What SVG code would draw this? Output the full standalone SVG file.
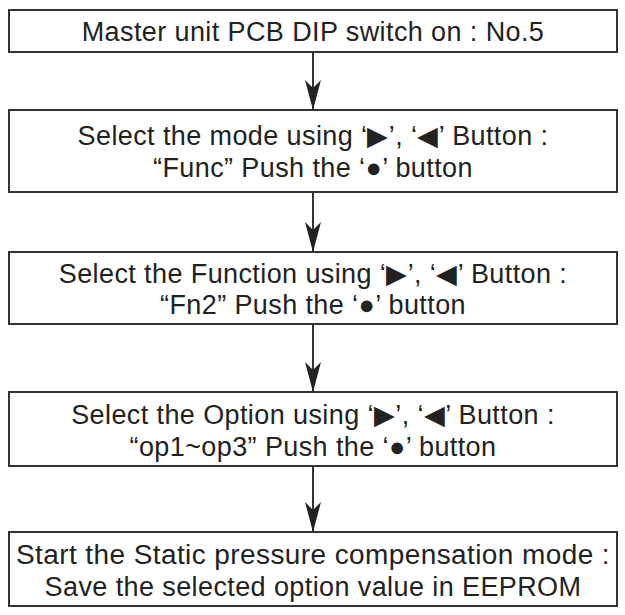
<svg xmlns="http://www.w3.org/2000/svg" width="625" height="615" viewBox="0 0 625 615">
<style>
rect{fill:#fff;stroke:#333;stroke-width:2}
text{font-family:"Liberation Sans",Arial,sans-serif;font-size:27px;letter-spacing:0.4px;fill:#222;text-anchor:middle}
.c line{stroke:#333;stroke-width:2}
</style>
<defs><marker id="a" markerWidth="30" markerHeight="16" refX="30" refY="8" orient="auto" markerUnits="userSpaceOnUse" viewBox="0 0 30 16"><path d="M0,0 L30,8 L0,16 L8,8 Z" fill="#222"/></marker></defs>
<rect x="0" y="0" width="625" height="615" style="stroke:none"/>
<g id="n1"><rect x="9" y="10" width="608" height="42"/><text x="313" y="41">Master unit PCB DIP switch on : No.5</text></g>
<g id="n2"><rect x="9" y="110" width="608" height="82"/><text x="313" y="145">Select the mode using ‘▶’, ‘◀’ Button :</text><text x="313" y="177">“Func” Push the ‘●’ button</text></g>
<g id="n3"><rect x="9" y="252" width="608" height="72"/><text x="313" y="283">Select the Function using ‘▶’, ‘◀’ Button :</text><text x="313" y="314">“Fn2” Push the ‘●’ button</text></g>
<g id="n4"><rect x="9" y="392" width="608" height="74"/><text x="313" y="424">Select the Option using ‘▶’, ‘◀’ Button :</text><text x="313" y="456">“op1~op3” Push the ‘●’ button</text></g>
<g id="n5"><rect x="9" y="532" width="608" height="74"/><text x="313" y="564" textLength="594" lengthAdjust="spacingAndGlyphs">Start the Static pressure compensation mode :</text><text x="313" y="596">Save the selected option value in EEPROM</text></g>
<g class="c">
<line x1="313" y1="52" x2="313" y2="110" marker-end="url(#a)"/>
<line x1="313" y1="192" x2="313" y2="252" marker-end="url(#a)"/>
<line x1="313" y1="324" x2="313" y2="392" marker-end="url(#a)"/>
<line x1="313" y1="466" x2="313" y2="532" marker-end="url(#a)"/>
</g>
</svg>
